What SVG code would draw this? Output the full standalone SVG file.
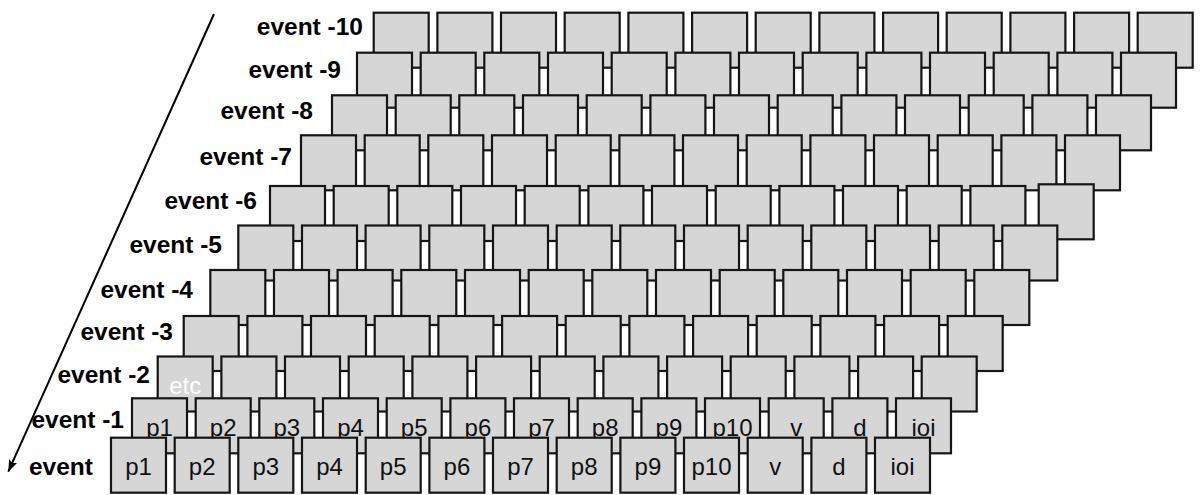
<svg xmlns="http://www.w3.org/2000/svg" width="1203" height="495" viewBox="0 0 1203 495">
<style>
.b{fill:#d6d6d6;stroke:#151515;stroke-width:2.2}
.t{font-family:"Liberation Sans",Arial,sans-serif;font-size:24px;fill:#111;text-anchor:middle}
.w{fill:#ffffff}
.ev{font-family:"Liberation Sans",Arial,sans-serif;font-weight:bold;font-size:24.5px;fill:#000;text-anchor:end}
.ar{stroke:#000;stroke-width:2;fill:none}
</style>
<defs>
<marker id="ah" markerUnits="userSpaceOnUse" markerWidth="12" markerHeight="9" viewBox="0 0 12 9" refX="12" refY="4.5" orient="auto"><path d="M0,0 L12,4.5 L0,9 L2.5,4.5 z" fill="#000"/></marker>
</defs>
<g id="connectors"><line class="ar" x1="214" y1="14" x2="8.3" y2="471.7" marker-end="url(#ah)"/></g>
<g id="labels">
<g id="lab-10"><text class="ev" x="363" y="35">event -10</text></g>
<g id="lab-9"><text class="ev" x="341" y="78">event -9</text></g>
<g id="lab-8"><text class="ev" x="313" y="119">event -8</text></g>
<g id="lab-7"><text class="ev" x="292" y="165">event -7</text></g>
<g id="lab-6"><text class="ev" x="257" y="209">event -6</text></g>
<g id="lab-5"><text class="ev" x="222" y="253">event -5</text></g>
<g id="lab-4"><text class="ev" x="193" y="298">event -4</text></g>
<g id="lab-3"><text class="ev" x="173" y="340">event -3</text></g>
<g id="lab-2"><text class="ev" x="150" y="383">event -2</text></g>
<g id="lab-1"><text class="ev" x="124" y="428">event -1</text></g>
<g id="lab0"><text class="ev" x="93" y="475">event</text></g>
</g>
<g id="row-10">
<g id="n10-1"><rect class="b" x="373.7" y="12.7" width="55" height="55"/></g>
<g id="n10-2"><rect class="b" x="437.4" y="12.7" width="55" height="55"/></g>
<g id="n10-3"><rect class="b" x="501.0" y="12.7" width="55" height="55"/></g>
<g id="n10-4"><rect class="b" x="564.7" y="12.7" width="55" height="55"/></g>
<g id="n10-5"><rect class="b" x="628.4" y="12.7" width="55" height="55"/></g>
<g id="n10-6"><rect class="b" x="692.1" y="12.7" width="55" height="55"/></g>
<g id="n10-7"><rect class="b" x="755.7" y="12.7" width="55" height="55"/></g>
<g id="n10-8"><rect class="b" x="819.4" y="12.7" width="55" height="55"/></g>
<g id="n10-9"><rect class="b" x="883.1" y="12.7" width="55" height="55"/></g>
<g id="n10-10"><rect class="b" x="946.7" y="12.7" width="55" height="55"/></g>
<g id="n10-11"><rect class="b" x="1010.4" y="12.7" width="55" height="55"/></g>
<g id="n10-12"><rect class="b" x="1074.1" y="12.7" width="55" height="55"/></g>
<g id="n10-13"><rect class="b" x="1137.7" y="12.7" width="55" height="55"/></g>
</g>
<g id="row-9">
<g id="n9-1"><rect class="b" x="357" y="52.7" width="55" height="55"/></g>
<g id="n9-2"><rect class="b" x="420.7" y="52.7" width="55" height="55"/></g>
<g id="n9-3"><rect class="b" x="484.3" y="52.7" width="55" height="55"/></g>
<g id="n9-4"><rect class="b" x="548.0" y="52.7" width="55" height="55"/></g>
<g id="n9-5"><rect class="b" x="611.7" y="52.7" width="55" height="55"/></g>
<g id="n9-6"><rect class="b" x="675.4" y="52.7" width="55" height="55"/></g>
<g id="n9-7"><rect class="b" x="739.0" y="52.7" width="55" height="55"/></g>
<g id="n9-8"><rect class="b" x="802.7" y="52.7" width="55" height="55"/></g>
<g id="n9-9"><rect class="b" x="866.4" y="52.7" width="55" height="55"/></g>
<g id="n9-10"><rect class="b" x="930.0" y="52.7" width="55" height="55"/></g>
<g id="n9-11"><rect class="b" x="993.7" y="52.7" width="55" height="55"/></g>
<g id="n9-12"><rect class="b" x="1057.4" y="52.7" width="55" height="55"/></g>
<g id="n9-13"><rect class="b" x="1121.0" y="52.7" width="55" height="55"/></g>
</g>
<g id="row-8">
<g id="n8-1"><rect class="b" x="332" y="95.3" width="55" height="55"/></g>
<g id="n8-2"><rect class="b" x="395.7" y="95.3" width="55" height="55"/></g>
<g id="n8-3"><rect class="b" x="459.3" y="95.3" width="55" height="55"/></g>
<g id="n8-4"><rect class="b" x="523.0" y="95.3" width="55" height="55"/></g>
<g id="n8-5"><rect class="b" x="586.7" y="95.3" width="55" height="55"/></g>
<g id="n8-6"><rect class="b" x="650.4" y="95.3" width="55" height="55"/></g>
<g id="n8-7"><rect class="b" x="714.0" y="95.3" width="55" height="55"/></g>
<g id="n8-8"><rect class="b" x="777.7" y="95.3" width="55" height="55"/></g>
<g id="n8-9"><rect class="b" x="841.4" y="95.3" width="55" height="55"/></g>
<g id="n8-10"><rect class="b" x="905.0" y="95.3" width="55" height="55"/></g>
<g id="n8-11"><rect class="b" x="968.7" y="95.3" width="55" height="55"/></g>
<g id="n8-12"><rect class="b" x="1032.4" y="95.3" width="55" height="55"/></g>
<g id="n8-13"><rect class="b" x="1096.0" y="95.3" width="55" height="55"/></g>
</g>
<g id="row-7">
<g id="n7-1"><rect class="b" x="301" y="135.3" width="55" height="55"/></g>
<g id="n7-2"><rect class="b" x="364.7" y="135.3" width="55" height="55"/></g>
<g id="n7-3"><rect class="b" x="428.3" y="135.3" width="55" height="55"/></g>
<g id="n7-4"><rect class="b" x="492.0" y="135.3" width="55" height="55"/></g>
<g id="n7-5"><rect class="b" x="555.7" y="135.3" width="55" height="55"/></g>
<g id="n7-6"><rect class="b" x="619.4" y="135.3" width="55" height="55"/></g>
<g id="n7-7"><rect class="b" x="683.0" y="135.3" width="55" height="55"/></g>
<g id="n7-8"><rect class="b" x="746.7" y="135.3" width="55" height="55"/></g>
<g id="n7-9"><rect class="b" x="810.4" y="135.3" width="55" height="55"/></g>
<g id="n7-10"><rect class="b" x="874.0" y="135.3" width="55" height="55"/></g>
<g id="n7-11"><rect class="b" x="937.7" y="135.3" width="55" height="55"/></g>
<g id="n7-12"><rect class="b" x="1001.4" y="135.3" width="55" height="55"/></g>
<g id="n7-13"><rect class="b" x="1065.0" y="135.3" width="55" height="55"/></g>
</g>
<g id="row-6">
<g id="n6-1"><rect class="b" x="270" y="186" width="55" height="55"/></g>
<g id="n6-2"><rect class="b" x="333.7" y="186" width="55" height="55"/></g>
<g id="n6-3"><rect class="b" x="397.3" y="186" width="55" height="55"/></g>
<g id="n6-4"><rect class="b" x="461.0" y="186" width="55" height="55"/></g>
<g id="n6-5"><rect class="b" x="524.7" y="186" width="55" height="55"/></g>
<g id="n6-6"><rect class="b" x="588.4" y="186" width="55" height="55"/></g>
<g id="n6-7"><rect class="b" x="652.0" y="186" width="55" height="55"/></g>
<g id="n6-8"><rect class="b" x="715.7" y="186" width="55" height="55"/></g>
<g id="n6-9"><rect class="b" x="779.4" y="186" width="55" height="55"/></g>
<g id="n6-10"><rect class="b" x="843.0" y="186" width="55" height="55"/></g>
<g id="n6-11"><rect class="b" x="906.7" y="186" width="55" height="55"/></g>
<g id="n6-12"><rect class="b" x="970.4" y="186" width="55" height="55"/></g>
<g id="n6-13"><rect class="b" x="1038.7" y="184.3" width="55" height="55"/></g>
</g>
<g id="row-5">
<g id="n5-1"><rect class="b" x="238.3" y="225.5" width="55" height="55"/></g>
<g id="n5-2"><rect class="b" x="302.0" y="225.5" width="55" height="55"/></g>
<g id="n5-3"><rect class="b" x="365.6" y="225.5" width="55" height="55"/></g>
<g id="n5-4"><rect class="b" x="429.3" y="225.5" width="55" height="55"/></g>
<g id="n5-5"><rect class="b" x="493.0" y="225.5" width="55" height="55"/></g>
<g id="n5-6"><rect class="b" x="556.7" y="225.5" width="55" height="55"/></g>
<g id="n5-7"><rect class="b" x="620.3" y="225.5" width="55" height="55"/></g>
<g id="n5-8"><rect class="b" x="684.0" y="225.5" width="55" height="55"/></g>
<g id="n5-9"><rect class="b" x="747.7" y="225.5" width="55" height="55"/></g>
<g id="n5-10"><rect class="b" x="811.3" y="225.5" width="55" height="55"/></g>
<g id="n5-11"><rect class="b" x="875.0" y="225.5" width="55" height="55"/></g>
<g id="n5-12"><rect class="b" x="938.7" y="225.5" width="55" height="55"/></g>
<g id="n5-13"><rect class="b" x="1002.3" y="225.5" width="55" height="55"/></g>
</g>
<g id="row-4">
<g id="n4-1"><rect class="b" x="210.3" y="270" width="55" height="55"/></g>
<g id="n4-2"><rect class="b" x="274.0" y="270" width="55" height="55"/></g>
<g id="n4-3"><rect class="b" x="337.6" y="270" width="55" height="55"/></g>
<g id="n4-4"><rect class="b" x="401.3" y="270" width="55" height="55"/></g>
<g id="n4-5"><rect class="b" x="465.0" y="270" width="55" height="55"/></g>
<g id="n4-6"><rect class="b" x="528.7" y="270" width="55" height="55"/></g>
<g id="n4-7"><rect class="b" x="592.3" y="270" width="55" height="55"/></g>
<g id="n4-8"><rect class="b" x="656.0" y="270" width="55" height="55"/></g>
<g id="n4-9"><rect class="b" x="719.7" y="270" width="55" height="55"/></g>
<g id="n4-10"><rect class="b" x="783.3" y="270" width="55" height="55"/></g>
<g id="n4-11"><rect class="b" x="847.0" y="270" width="55" height="55"/></g>
<g id="n4-12"><rect class="b" x="910.7" y="270" width="55" height="55"/></g>
<g id="n4-13"><rect class="b" x="974.3" y="270" width="55" height="55"/></g>
</g>
<g id="row-3">
<g id="n3-1"><rect class="b" x="183.7" y="316" width="55" height="55"/></g>
<g id="n3-2"><rect class="b" x="247.4" y="316" width="55" height="55"/></g>
<g id="n3-3"><rect class="b" x="311.0" y="316" width="55" height="55"/></g>
<g id="n3-4"><rect class="b" x="374.7" y="316" width="55" height="55"/></g>
<g id="n3-5"><rect class="b" x="438.4" y="316" width="55" height="55"/></g>
<g id="n3-6"><rect class="b" x="502.1" y="316" width="55" height="55"/></g>
<g id="n3-7"><rect class="b" x="565.7" y="316" width="55" height="55"/></g>
<g id="n3-8"><rect class="b" x="629.4" y="316" width="55" height="55"/></g>
<g id="n3-9"><rect class="b" x="693.1" y="316" width="55" height="55"/></g>
<g id="n3-10"><rect class="b" x="756.7" y="316" width="55" height="55"/></g>
<g id="n3-11"><rect class="b" x="820.4" y="316" width="55" height="55"/></g>
<g id="n3-12"><rect class="b" x="884.1" y="316" width="55" height="55"/></g>
<g id="n3-13"><rect class="b" x="947.7" y="316" width="55" height="55"/></g>
</g>
<g id="row-2">
<g id="n2-1"><rect class="b" x="157.7" y="356.5" width="55" height="55"/><text class="t w" x="185.2" y="393.5">etc</text></g>
<g id="n2-2"><rect class="b" x="221.4" y="356.5" width="55" height="55"/></g>
<g id="n2-3"><rect class="b" x="285.0" y="356.5" width="55" height="55"/></g>
<g id="n2-4"><rect class="b" x="348.7" y="356.5" width="55" height="55"/></g>
<g id="n2-5"><rect class="b" x="412.4" y="356.5" width="55" height="55"/></g>
<g id="n2-6"><rect class="b" x="476.1" y="356.5" width="55" height="55"/></g>
<g id="n2-7"><rect class="b" x="539.7" y="356.5" width="55" height="55"/></g>
<g id="n2-8"><rect class="b" x="603.4" y="356.5" width="55" height="55"/></g>
<g id="n2-9"><rect class="b" x="667.1" y="356.5" width="55" height="55"/></g>
<g id="n2-10"><rect class="b" x="730.7" y="356.5" width="55" height="55"/></g>
<g id="n2-11"><rect class="b" x="794.4" y="356.5" width="55" height="55"/></g>
<g id="n2-12"><rect class="b" x="858.1" y="356.5" width="55" height="55"/></g>
<g id="n2-13"><rect class="b" x="921.7" y="356.5" width="55" height="55"/></g>
</g>
<g id="row-1">
<g id="n1-1"><rect class="b" x="132" y="398.3" width="55" height="55"/><text class="t" x="159.5" y="436">p1</text></g>
<g id="n1-2"><rect class="b" x="195.7" y="398.3" width="55" height="55"/><text class="t" x="223.2" y="436">p2</text></g>
<g id="n1-3"><rect class="b" x="259.3" y="398.3" width="55" height="55"/><text class="t" x="286.8" y="436">p3</text></g>
<g id="n1-4"><rect class="b" x="323.0" y="398.3" width="55" height="55"/><text class="t" x="350.5" y="436">p4</text></g>
<g id="n1-5"><rect class="b" x="386.7" y="398.3" width="55" height="55"/><text class="t" x="414.2" y="436">p5</text></g>
<g id="n1-6"><rect class="b" x="450.4" y="398.3" width="55" height="55"/><text class="t" x="477.9" y="436">p6</text></g>
<g id="n1-7"><rect class="b" x="514.0" y="398.3" width="55" height="55"/><text class="t" x="541.5" y="436">p7</text></g>
<g id="n1-8"><rect class="b" x="577.7" y="398.3" width="55" height="55"/><text class="t" x="605.2" y="436">p8</text></g>
<g id="n1-9"><rect class="b" x="641.4" y="398.3" width="55" height="55"/><text class="t" x="668.9" y="436">p9</text></g>
<g id="n1-10"><rect class="b" x="705.0" y="398.3" width="55" height="55"/><text class="t" x="732.5" y="436">p10</text></g>
<g id="n1-11"><rect class="b" x="768.7" y="398.3" width="55" height="55"/><text class="t" x="796.2" y="436">v</text></g>
<g id="n1-12"><rect class="b" x="832.4" y="398.3" width="55" height="55"/><text class="t" x="859.9" y="436">d</text></g>
<g id="n1-13"><rect class="b" x="896.0" y="398.3" width="55" height="55"/><text class="t" x="923.5" y="436">ioi</text></g>
</g>
<g id="row0">
<g id="n0-1"><rect class="b" x="111" y="437.7" width="55" height="55"/><text class="t" x="138.5" y="475">p1</text></g>
<g id="n0-2"><rect class="b" x="174.7" y="437.7" width="55" height="55"/><text class="t" x="202.2" y="475">p2</text></g>
<g id="n0-3"><rect class="b" x="238.3" y="437.7" width="55" height="55"/><text class="t" x="265.8" y="475">p3</text></g>
<g id="n0-4"><rect class="b" x="302.0" y="437.7" width="55" height="55"/><text class="t" x="329.5" y="475">p4</text></g>
<g id="n0-5"><rect class="b" x="365.7" y="437.7" width="55" height="55"/><text class="t" x="393.2" y="475">p5</text></g>
<g id="n0-6"><rect class="b" x="429.4" y="437.7" width="55" height="55"/><text class="t" x="456.9" y="475">p6</text></g>
<g id="n0-7"><rect class="b" x="493.0" y="437.7" width="55" height="55"/><text class="t" x="520.5" y="475">p7</text></g>
<g id="n0-8"><rect class="b" x="556.7" y="437.7" width="55" height="55"/><text class="t" x="584.2" y="475">p8</text></g>
<g id="n0-9"><rect class="b" x="620.4" y="437.7" width="55" height="55"/><text class="t" x="647.9" y="475">p9</text></g>
<g id="n0-10"><rect class="b" x="684.0" y="437.7" width="55" height="55"/><text class="t" x="711.5" y="475">p10</text></g>
<g id="n0-11"><rect class="b" x="747.7" y="437.7" width="55" height="55"/><text class="t" x="775.2" y="475">v</text></g>
<g id="n0-12"><rect class="b" x="811.4" y="437.7" width="55" height="55"/><text class="t" x="838.9" y="475">d</text></g>
<g id="n0-13"><rect class="b" x="875.0" y="437.7" width="55" height="55"/><text class="t" x="902.5" y="475">ioi</text></g>
</g>
</svg>
